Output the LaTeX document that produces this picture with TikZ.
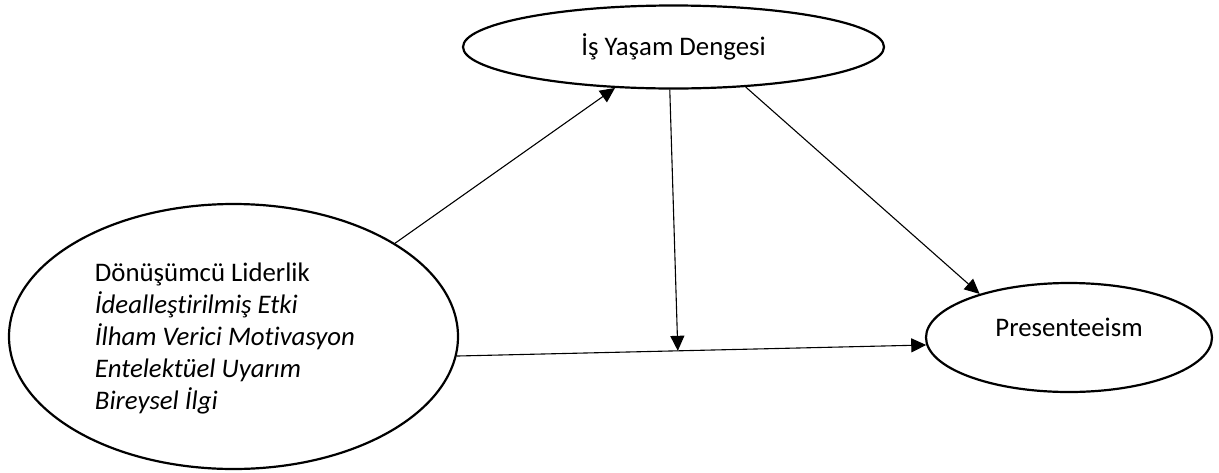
\documentclass[tikz,border=0pt]{standalone}
\usepackage{fontspec}
\setmainfont{Carlito}[Ligatures=NoCommon]
\usetikzlibrary{shapes.geometric,arrows.meta}
\begin{document}
\begin{tikzpicture}[x=1pt,y=-1pt,
  construct/.style={ellipse,draw,line width=2.2pt,inner sep=0pt,
    font=\fontsize{26.8}{32}\selectfont},
  link/.style={-{Triangle[length=15pt,width=14pt]},line width=1.1pt}]
\useasboundingbox (0,0) rectangle (1219,472);

% the three constructs
\node[construct,minimum width=421pt,minimum height=83pt] (wlb) at (673.5,47)
  {İş Yaşam Dengesi};
\node[construct,minimum width=449pt,minimum height=265pt] (tl) at (233.5,336.5)
  {\raisebox{-3pt}[\height][\depth]{%
   \begin{tabular}{@{}l@{\hspace{17pt}}}
   Dönüşümcü Liderlik\\
   \textit{İdealleştirilmiş Etki}\\
   \textit{İlham Verici Motivasyon}\\
   \textit{Entelektüel Uyarım}\\
   \textit{Bireysel İlgi}
   \end{tabular}}};
\node[construct,minimum width=286pt,minimum height=109pt] (pr) at (1069,337.5)
  {\raisebox{10pt}[\height][\depth]{Presenteeism}};

% direct effect, with the point where the moderator meets it
\draw[link] (tl.355.8) -- coordinate[pos=0.471] (meet) (pr.183);

% paths through work-life balance
\draw[link] (tl.30.6) -- (wlb.215);
\draw[link] (wlb.265) -- (meet);
\draw[link] (wlb.331.8) -- (pr.154.2);
\end{tikzpicture}
\end{document}
